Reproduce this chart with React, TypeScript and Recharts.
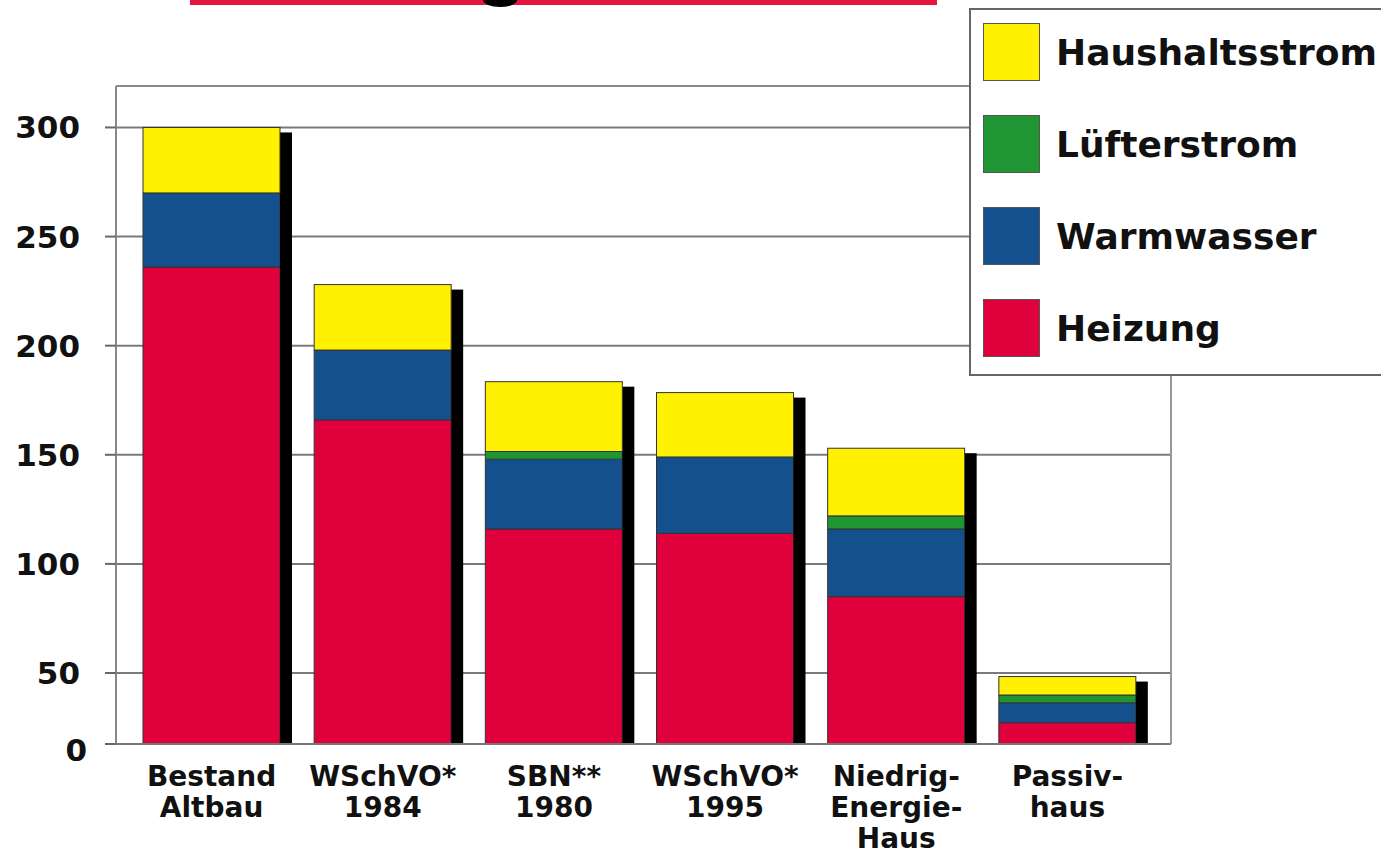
import React from 'react';
import { BarChart, Bar, XAxis, YAxis, CartesianGrid, Legend, ReferenceLine } from 'recharts';

// Kategorien (Zeilenumbrüche = mehrzeilige Achsenbeschriftung)
const CATEGORIES = [
  'Bestand\nAltbau',
  'WSchVO*\n1984',
  'SBN**\n1980',
  'WSchVO*\n1995',
  'Niedrig-\nEnergie-\nHaus',
  'Passiv-\nhaus',
];
const HEIZUNG = [236, 166, 116, 114, 85, 15];
const WARMWASSER = [34, 32, 32, 35, 31, 14];
const LUEFTERSTROM = [0, 0, 3.5, 0, 6, 5.5];
const HAUSHALTSSTROM = [30, 30, 32, 29.5, 31, 13];
const Y_TICKS = [0, 50, 100, 150, 200, 250, 300];
const Y_MAX = 319;

const SERIES = [
  { key: 'heizung', name: 'Heizung', color: '#E0003B', values: HEIZUNG },
  { key: 'warmwasser', name: 'Warmwasser', color: '#15508E', values: WARMWASSER },
  { key: 'luefter', name: 'Lüfterstrom', color: '#1F9633', values: LUEFTERSTROM },
  { key: 'haushalt', name: 'Haushaltsstrom', color: '#FFF100', values: HAUSHALTSSTROM },
];

const FONT = '"DejaVu Sans", Verdana, sans-serif';
const W = 1381;
const H = 858;

// Die Vorlage staucht den Bereich 0–50 (gebrochene Achse): 0–50 nimmt nur ~11 % der Höhe ein.
const BREAK_VALUE = 50;
const BREAK_SHARE = 71 / 658;

function brokenScale(dom: number[] = [0, 1], rng: number[] = [0, 1]): any {
  let d = [...dom];
  let r = [...rng];
  const f: any = (v: number) => {
    const d0 = Number(d[0]);
    const d1 = Number(d[d.length - 1]);
    const r0 = r[0];
    const r1 = r[r.length - 1];
    const t =
      v <= BREAK_VALUE
        ? ((v - d0) / (BREAK_VALUE - d0)) * BREAK_SHARE
        : BREAK_SHARE + ((v - BREAK_VALUE) / (d1 - BREAK_VALUE)) * (1 - BREAK_SHARE);
    return r0 + (r1 - r0) * t;
  };
  f.domain = (x?: number[]) => (x === undefined ? [...d] : ((d = [...x]), f));
  f.range = (x?: number[]) => (x === undefined ? [...r] : ((r = [...x]), f));
  f.copy = () => brokenScale(d, r);
  f.ticks = () => Y_TICKS;
  return f;
}

const data = CATEGORIES.map((name, i) => {
  const row: Record<string, string | number> = { name };
  SERIES.forEach((s) => {
    row[s.key] = s.values[i];
  });
  return row;
});

const SHADOW_W = 12;
const SHADOW_DROP = 5;

function TopSegment(props: any) {
  const { x, y, width, height, fill, background } = props;
  const bottom = background ? background.y + background.height : y + height;
  return (
    <g>
      <rect
        x={x + width}
        y={y + SHADOW_DROP}
        width={SHADOW_W}
        height={Math.max(0, bottom - y - SHADOW_DROP)}
        fill="#000"
      />
      <rect x={x} y={y} width={width} height={height} fill={fill} stroke="#333" strokeWidth={1} />
    </g>
  );
}

function YTick({ x, y, payload }: any) {
  const zero = payload.value === 0;
  return (
    <text
      x={x + (zero ? 7 : 0)}
      y={y + (zero ? 6 : 0)}
      textAnchor="end"
      dominantBaseline="central"
      fontFamily={FONT}
      fontWeight="bold"
      fontSize={31}
      fill="#111"
    >
      {payload.value}
    </text>
  );
}

function XTick({ x, y, payload }: any) {
  const lines = String(payload.value).split('\n');
  return (
    <text x={x} y={y + 42} textAnchor="middle" fontFamily={FONT} fontWeight="bold" fontSize={28} fill="#111">
      {lines.map((l, i) => (
        <tspan key={i} x={x} dy={i === 0 ? 0 : 31}>
          {l}
        </tspan>
      ))}
    </text>
  );
}

function LegendBox() {
  return (
    <div
      style={{
        boxSizing: 'border-box',
        width: '100%',
        height: '100%',
        background: '#fff',
        borderLeft: '2px solid #666',
        borderTop: '2px solid #666',
        borderBottom: '2px solid #666',
        paddingTop: 13,
        paddingLeft: 12,
      }}
    >
      {[...SERIES].reverse().map((s) => (
        <div key={s.key} style={{ display: 'flex', alignItems: 'center', height: 58, marginBottom: 34 }}>
          <div
            style={{
              width: 57,
              height: 58,
              background: s.color,
              border: '1px solid #555',
              boxSizing: 'border-box',
            }}
          />
          <span
            style={{
              marginLeft: 16,
              fontFamily: FONT,
              fontWeight: 'bold',
              fontSize: 36,
              color: '#111',
              whiteSpace: 'nowrap',
            }}
          >
            {s.name}
          </span>
        </div>
      ))}
    </div>
  );
}

export default function App() {
  return (
    <div style={{ position: 'relative', width: W, height: H, overflow: 'hidden', background: '#fff' }}>
      <style>{'body{margin:0}'}</style>
      {/* Rest der abgeschnittenen Überschrift */}
      <div style={{ position: 'absolute', left: 190, top: 0, width: 747, height: 5, background: '#E5173F' }} />
      <div
        style={{
          position: 'absolute',
          left: 483,
          top: -7,
          width: 34,
          height: 14,
          borderRadius: '50%',
          background: '#000',
          zIndex: 2,
        }}
      />
      <BarChart
        width={W}
        height={H}
        data={data}
        margin={{ top: 86, right: 190, bottom: 14, left: 16 }}
        barSize={137}
      >
        <CartesianGrid yAxisId="left" vertical={false} stroke="#7a7a7a" strokeWidth={2} />
        <ReferenceLine yAxisId="left" y={Y_MAX} stroke="#8a8a8a" strokeWidth={2} />
        <XAxis
          dataKey="name"
          interval={0}
          tickLine={false}
          tickSize={0}
          tickMargin={0}
          height={100}
          padding={{ left: 10, right: 18 }}
          axisLine={{ stroke: '#777', strokeWidth: 2 }}
          tick={<XTick />}
        />
        <YAxis
          yAxisId="left"
          type="number"
          domain={[0, Y_MAX]}
          scale={brokenScale()}
          ticks={Y_TICKS}
          interval={0}
          width={100}
          tickSize={11}
          tickMargin={25}
          tickLine={{ stroke: '#666', strokeWidth: 2 }}
          axisLine={{ stroke: '#888', strokeWidth: 2 }}
          tick={<YTick />}
        />
        <YAxis
          yAxisId="right"
          orientation="right"
          type="number"
          domain={[0, Y_MAX]}
          scale={brokenScale()}
          ticks={Y_TICKS}
          interval={0}
          width={20}
          tickSize={10}
          tickFormatter={() => ''}
          tickLine={{ stroke: '#666', strokeWidth: 2 }}
          axisLine={{ stroke: '#999', strokeWidth: 2 }}
        />
        {SERIES.map((s, i) => (
          <Bar
            key={s.key}
            yAxisId="left"
            dataKey={s.key}
            name={s.name}
            stackId="a"
            fill={s.color}
            stroke="#333"
            strokeWidth={1}
            isAnimationActive={false}
            shape={i === SERIES.length - 1 ? <TopSegment /> : undefined}
          />
        ))}
        <Legend
          layout="horizontal"
          verticalAlign="middle"
          align="center"
          content={<LegendBox />}
          wrapperStyle={{ top: 8, left: 969, width: 412, height: 368, zIndex: 3 }}
        />
      </BarChart>
    </div>
  );
}
